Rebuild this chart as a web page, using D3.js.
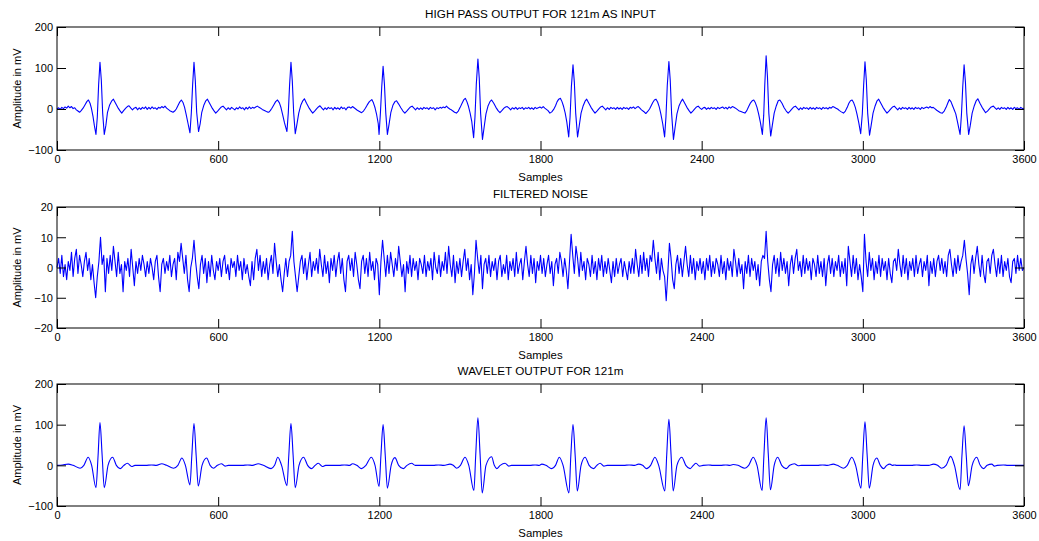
<!DOCTYPE html>
<html>
<head>
<meta charset="utf-8">
<script src="https://cdn.jsdelivr.net/npm/d3@7"></script>
<style>
  html, body { margin: 0; padding: 0; background: #fff; }
  svg text { font-family: "Liberation Sans", Arial, Helvetica, sans-serif; fill: #000; }
</style>
</head>
<body>
<svg id="chart" width="1039" height="541"></svg>
<script>
// ---- data ---------------------------------------------------------------
const sampleTicks = [0, 600, 1200, 1800, 2400, 3000, 3600];
const ecgTicks = [-100, 0, 100, 200];
const noiseTicks = [-20, -10, 0, 10, 20];
const titles = ["HIGH PASS OUTPUT FOR 121m AS INPUT", "FILTERED NOISE", "WAVELET OUTPUT FOR 121m"];
const xLabel = "Samples";
const yLabel = "Amplitude in mV";

// high-pass filtered ECG, [sample, mV]
const highPass = [
  [0,0],[6,3],[12,-1],[18,4],[24,1],[30,5],[36,2],[42,7],[48,3],[54,6],[60,1],[66,3],[72,-2],[78,-5],[84,-8],[90,-4],
  [97,2],[104,10],[111,18],[117,22],[123,14],[128,2],[134,-18],[139,-40],[145,-62],[150,-20],[155,60],[160,114],[165,70],[170,-10],[176,-62],[182,-40],[188,-8],[196,10],[204,20],[210,24],[218,14],[226,4],[234,-4],[241,-10],[248,-4],[256,2],[262,6],[268,8],[275,2],[281,-2],[287,2],
  [294,4],[300,-2],[306,3],[312,-1],[318,4],[324,1],[330,5],[336,-1],[342,4],[348,0],[354,5],[360,1],[366,3],[372,-1],[378,4],[384,2],[390,6],[396,3],[402,7],[408,2],
  [414,-1],[420,-4],[426,-6],[432,-8],[438,-5],[444,0],[450,8],[456,16],[463,22],[469,16],[475,4],[481,-14],[488,-36],[495,-58],[500,-10],[505,60],[510,114],[515,68],[520,-8],[527,-55],[533,-36],[539,-8],[547,10],[554,20],[560,24],[568,14],[576,4],[584,-4],[591,-10],[598,-5],[606,1],[612,5],[618,7],[625,2],[631,-2],[637,3],
  [644,-1],[650,4],[656,1],[662,-2],[668,3],[674,0],[680,5],[686,1],[692,3],[698,-2],[704,4],[710,0],[716,5],[722,1],[728,4],[734,2],[740,5],[746,7],[752,4],[758,2],[764,-1],
  [770,-3],[776,-5],[782,-7],[788,-8],[794,-4],[800,2],[807,10],[814,18],[821,22],[828,15],[834,3],[840,-14],[847,-34],[856,-55],[861,-10],[866,60],[871,114],[876,68],[881,-8],[887,-60],[893,-38],[900,-10],[908,10],[915,20],[921,25],[929,14],[937,4],[945,-4],[952,-10],[959,-5],[967,1],[973,5],[979,8],[986,2],[992,-2],[998,3],
  [1004,-1],[1010,4],[1016,1],[1022,3],[1028,-2],[1034,4],[1040,0],[1046,3],[1052,-1],[1058,5],[1064,1],[1070,3],[1076,-2],[1082,4],[1088,5],[1094,2],[1100,6],[1106,3],[1112,0],
  [1118,-3],[1126,-6],[1134,-9],[1141,-5],[1148,2],[1155,10],[1163,18],[1172,23],[1178,15],[1184,3],[1190,-14],[1196,-36],[1199,-62],[1204,-10],[1209,55],[1214,104],[1219,60],[1224,-10],[1230,-62],[1236,-38],[1243,-8],[1251,10],[1258,18],[1264,20],[1272,12],[1280,3],[1288,-5],[1295,-10],[1302,-5],[1310,1],[1316,5],[1322,7],[1329,2],[1335,-2],[1341,3],
  [1348,-1],[1354,3],[1360,-1],[1366,4],[1372,1],[1378,3],[1384,-1],[1390,4],[1396,1],[1402,3],[1408,-2],[1414,3],[1420,1],[1426,4],[1432,2],[1438,5],[1444,3],[1450,7],[1456,3],[1462,0],[1468,-2],
  [1474,-5],[1480,-8],[1487,-10],[1494,-5],[1501,4],[1508,14],[1514,22],[1520,26],[1526,18],[1532,6],[1538,-10],[1544,-30],[1551,-70],[1556,-20],[1561,60],[1567,122],[1572,75],[1577,-10],[1584,-74],[1590,-45],[1597,-12],[1605,8],[1612,18],[1618,22],[1626,14],[1634,4],[1642,-4],[1649,-9],[1656,-4],[1664,2],[1670,5],[1676,6],[1683,2],[1689,-2],[1695,3],
  [1702,0],[1708,4],[1714,-1],[1720,3],[1726,1],[1732,4],[1738,-1],[1744,3],[1750,1],[1756,4],[1762,0],[1768,3],[1774,-1],[1780,4],[1786,1],[1792,3],[1798,5],[1804,2],[1810,6],[1816,2],[1822,-1],
  [1828,-4],[1835,-10],[1842,-7],[1849,-1],[1856,8],[1862,18],[1868,24],[1874,26],[1880,18],[1886,6],[1892,-10],[1898,-32],[1905,-68],[1910,-20],[1915,55],[1921,108],[1926,65],[1931,-10],[1938,-68],[1944,-42],[1951,-10],[1959,8],[1966,19],[1972,24],[1980,14],[1988,4],[1996,-4],[2003,-10],[2010,-5],[2018,1],[2024,5],[2030,7],[2037,2],[2043,-2],[2049,3],
  [2056,-1],[2062,4],[2068,1],[2074,3],[2080,-1],[2086,4],[2092,0],[2098,3],[2104,-1],[2110,4],[2116,1],[2122,3],[2128,-1],[2134,4],[2140,2],[2146,5],[2152,1],[2158,4],[2164,6],[2170,2],[2176,-2],
  [2184,-6],[2192,-11],[2199,-6],[2206,0],[2212,8],[2218,16],[2224,22],[2230,24],[2236,17],[2242,5],[2248,-12],[2255,-36],[2262,-68],[2267,-20],[2272,58],[2278,116],[2283,70],[2288,-10],[2295,-74],[2301,-45],[2308,-12],[2316,8],[2323,18],[2329,24],[2337,14],[2345,4],[2353,-4],[2360,-10],[2367,-5],[2375,1],[2381,5],[2387,7],[2394,2],[2400,-1],[2406,3],
  [2412,4],[2418,-1],[2424,3],[2430,0],[2436,4],[2442,1],[2448,3],[2454,-1],[2460,4],[2466,1],[2472,3],[2478,5],[2484,1],[2490,4],[2496,0],[2502,5],[2508,2],[2514,6],[2520,4],[2526,2],[2532,-1],
  [2538,-4],[2546,-6],[2553,-8],[2561,-10],[2568,-4],[2575,6],[2582,15],[2588,20],[2594,22],[2600,15],[2606,4],[2612,-12],[2619,-34],[2626,-62],[2631,-15],[2635,60],[2640,130],[2645,78],[2650,-10],[2657,-66],[2663,-40],[2670,-10],[2678,8],[2685,20],[2691,22],[2699,14],[2707,3],[2715,-5],[2722,-10],[2729,-5],[2737,1],[2743,5],[2749,7],[2756,2],[2762,-2],[2768,3],
  [2774,-1],[2780,4],[2786,1],[2792,3],[2798,-1],[2804,4],[2810,0],[2816,3],[2822,-1],[2828,4],[2834,1],[2840,3],[2846,-1],[2852,4],[2858,1],[2864,3],[2870,0],[2876,4],[2882,2],[2888,6],[2894,4],[2900,2],
  [2906,0],[2913,-4],[2920,-7],[2928,-10],[2935,-5],[2942,4],[2948,14],[2954,20],[2960,22],[2966,15],[2972,4],[2978,-12],[2985,-34],[2992,-60],[2998,-12],[3003,58],[3008,115],[3013,70],[3018,-10],[3025,-64],[3031,-40],[3038,-10],[3046,8],[3053,20],[3059,24],[3067,14],[3075,4],[3083,-4],[3090,-10],[3097,-5],[3105,1],[3111,5],[3117,7],[3124,2],[3130,-2],[3136,3],
  [3142,-1],[3148,4],[3154,1],[3160,3],[3166,-1],[3172,4],[3178,0],[3184,3],[3190,-1],[3196,4],[3202,1],[3208,3],[3214,-1],[3220,4],[3226,1],[3232,3],[3238,5],[3244,2],[3250,6],[3256,3],[3262,4],[3268,1],
  [3275,-3],[3282,-6],[3289,-9],[3296,-10],[3303,-5],[3310,4],[3316,14],[3322,23],[3328,18],[3334,8],[3340,-2],[3346,-12],[3352,-30],[3362,-62],[3367,-15],[3372,55],[3377,108],[3382,65],[3387,-10],[3394,-62],[3400,-40],[3407,-10],[3415,8],[3422,20],[3428,25],[3436,14],[3444,4],[3452,-4],[3457,-9],[3464,-5],[3472,1],[3478,5],[3486,7],[3492,3],[3498,-1],[3504,3],
  [3510,-1],[3516,4],[3522,1],[3528,3],[3534,-1],[3540,4],[3546,0],[3552,3],[3558,-1],[3564,4],[3570,1],[3576,3],[3582,-1],[3588,4],[3594,1],[3600,2]
];

// filtered noise, one value every 6 samples (0 .. 3600)
const noiseStep = 6;
const noise = [
  0,3,-2,4,-3,1,-4,2,-1,5,-3,3,6,-2,4,1,-3,2,5,-1,3,-4,1,-5,-10,-3,2,10,1,4,-8,3,-2,4,-1,7,2,-3,5,-2,1,-8,2,-1,3,-3,6,0,-6,2,
  -2,3,-1,4,1,-3,2,-2,3,0,-4,2,4,-3,-8,1,3,-2,2,-1,4,-3,1,3,-4,5,2,8,3,-2,4,-4,-8,0,3,9,2,-3,-7,1,4,-2,3,-5,2,-3,4,-1,-4,2,
  -1,3,-3,2,4,-2,1,-4,3,0,2,-3,4,-1,2,-4,3,-2,1,-3,-6,2,-4,3,6,-1,4,-3,2,-2,3,-4,1,4,-2,8,2,-3,1,-4,-8,-2,3,-3,2,4,12,2,-3,-8,
  -3,2,4,-2,3,-4,1,5,-3,2,-1,3,-2,6,1,-3,4,-2,2,-5,3,-1,4,-3,2,5,-2,3,-4,-8,2,4,-1,3,-3,5,1,-4,-7,2,4,-2,3,-3,5,-1,2,-4,3,1,
  -9,2,9,3,-3,4,-2,5,1,-3,3,-1,7,2,-3,1,-8,2,-2,4,-3,3,-1,2,-4,3,1,-2,4,-3,2,-1,3,-4,5,0,-2,4,-3,2,-1,5,-2,7,1,-3,4,-5,2,-2,
  3,-3,2,6,-1,3,-4,1,-9,-2,9,3,-2,4,-7,1,3,-2,4,-3,2,-1,3,-4,2,4,-3,1,-2,4,-4,2,-1,3,-3,5,-2,1,3,-4,2,7,1,-3,4,-2,3,-5,2,-1,
  4,-2,3,-3,1,4,-2,2,-6,1,3,-2,5,2,-3,3,-1,-7,2,11,4,-2,7,3,-3,5,-1,2,-4,3,1,-3,4,-2,2,-4,3,-1,4,-3,2,-2,3,-1,-5,2,-3,3,-2,1,
  3,-3,2,-1,-4,2,-2,3,-2,6,1,-3,4,-2,5,-1,3,-3,4,2,9,3,-2,5,-4,3,-1,-3,-11,-2,8,3,-4,-7,1,4,-2,3,-3,2,7,1,-3,4,-2,3,-4,2,-1,3,
  -2,2,-4,3,-1,4,-3,2,-2,3,1,-3,4,-2,2,-4,3,-1,2,-3,6,2,-3,3,-2,1,-7,2,-2,4,-3,3,-1,2,-4,1,-6,2,4,3,12,2,-4,-8,1,4,-2,3,-3,5,
  -1,3,-2,2,-6,1,4,-2,3,6,-1,2,-3,4,-2,3,-1,2,-4,3,1,-3,4,-2,2,-3,3,-6,1,4,-2,3,-3,2,-1,4,-3,2,-2,3,-6,7,2,-3,4,-2,3,-4,1,-3,
  -8,11,2,-3,5,-1,3,-4,2,-2,4,-3,3,-1,2,-4,3,-2,-5,2,3,-1,6,1,-3,4,-2,3,-4,2,-1,3,-3,4,-2,1,3,-3,2,-1,4,-6,2,-2,3,-3,2,4,-1,3,
  -2,2,-3,4,6,1,-3,3,-2,4,-1,2,4,9,3,-2,-9,1,4,-2,3,7,1,-3,4,-2,-5,2,3,-2,4,6,1,-3,3,-2,4,-3,2,-1,3,-3,-5,2,3,-2,4,-1,3,-1,
  0
];

// wavelet-denoised ECG, [sample, mV]
const wavelet = [
  [0,0],[20,1],[42,3],[60,0],[86,-7],[100,0],[116,20],[129,0],[145,-55],[153,25],[160,105],[168,25],[176,-55],[190,0],[207,20],[221,0],[235,-8],[249,0],[262,5],[278,-3],[290,0],
  [330,0],[352,1],[370,0],[390,4],[408,0],[434,-7],[450,0],[465,18],[478,0],[495,-48],[502,25],[510,103],[518,25],[526,-51],[540,0],[557,18],[570,0],[583,-7],[597,0],[612,4],[626,-2],[638,0],
  [690,0],[710,1],[728,0],[749,4],[768,0],[797,-8],[810,0],[822,20],[836,0],[856,-50],[863,25],[871,103],[879,25],[887,-55],[901,0],[918,20],[933,0],[947,-8],[961,0],[973,5],[988,-3],[1000,0],
  [1050,0],[1070,1],[1090,0],[1100,4],[1116,0],[1134,-8],[1150,0],[1170,20],[1184,0],[1199,-52],[1206,25],[1214,100],[1222,25],[1230,-56],[1244,0],[1258,19],[1272,0],[1289,-8],[1303,0],[1320,5],[1334,0],
  [1400,0],[1420,1],[1440,0],[1463,3],[1475,0],[1488,-7],[1502,0],[1519,20],[1533,0],[1552,-62],[1559,28],[1567,117],[1575,28],[1583,-68],[1597,0],[1618,21],[1628,0],[1637,-8],[1650,0],[1668,5],[1682,-2],[1692,0],
  [1760,0],[1780,1],[1795,0],[1805,3],[1820,0],[1842,-8],[1856,0],[1870,20],[1884,0],[1906,-68],[1913,25],[1921,100],[1929,25],[1937,-63],[1951,0],[1966,20],[1981,0],[1997,-8],[2010,0],[2022,5],[2036,-2],[2048,0],
  [2110,0],[2130,1],[2150,0],[2165,3],[2180,0],[2195,-8],[2210,0],[2226,20],[2240,0],[2263,-63],[2270,27],[2278,113],[2286,27],[2294,-63],[2308,0],[2326,20],[2341,0],[2357,-8],[2369,0],[2379,5],[2392,-2],[2405,0],
  [2425,1],[2442,0],[2470,0],[2490,1],[2505,0],[2517,2],[2535,0],[2561,-7],[2575,0],[2592,20],[2606,0],[2625,-62],[2632,28],[2640,117],[2648,28],[2656,-60],[2670,0],[2683,20],[2698,0],[2714,-8],[2728,0],[2745,4],[2760,-1],[2772,0],
  [2830,0],[2850,1],[2868,0],[2890,3],[2905,0],[2928,-7],[2942,0],[2959,20],[2973,0],[2993,-56],[3000,26],[3008,107],[3016,26],[3024,-56],[3038,0],[3052,18],[3065,0],[3077,-8],[3089,0],[3101,3],[3110,0],[3118,1],[3126,0],
  [3180,0],[3200,1],[3220,0],[3245,0],[3263,3],[3278,0],[3293,-7],[3310,0],[3327,22],[3341,0],[3362,-60],[3369,24],[3377,97],[3385,24],[3393,-50],[3407,0],[3424,20],[3437,0],[3449,-8],[3463,0],[3480,3],[3490,-2],[3500,0],[3523,1],[3540,0],[3600,0]
];

// ---- layout -------------------------------------------------------------
const plotLeft = 57, plotRight = 1024;
const panels = [
  { top: 27,  bottom: 150, domain: [-100, 200], ticks: ecgTicks,   title: titles[0], kind: "pairs",  data: highPass, curve: d3.curveLinear },
  { top: 207, bottom: 328, domain: [-20, 20],   ticks: noiseTicks, title: titles[1], kind: "series", data: noise,    curve: d3.curveLinear },
  { top: 384, bottom: 506, domain: [-100, 200], ticks: ecgTicks,   title: titles[2], kind: "pairs",  data: wavelet,  curve: d3.curveMonotoneX }
];

const svg = d3.select("#chart");
const tickLen = 9;
const tickFont = "11px";
const titleFont = "11.7px";
const labelFont = "11.4px";

panels.forEach(p => {
  const x = d3.scaleLinear().domain([0, 3600]).range([plotLeft, plotRight]);
  const y = d3.scaleLinear().domain(p.domain).range([p.bottom, p.top]);
  const g = svg.append("g");

  // signal trace
  const pts = p.kind === "pairs" ? p.data : p.data.map((v, i) => [i * noiseStep, v]);
  const line = d3.line().x(d => x(d[0])).y(d => y(d[1])).curve(p.curve);
  g.append("path")
    .datum(pts)
    .attr("d", line)
    .attr("fill", "none")
    .attr("stroke", "#0000ff")
    .attr("stroke-width", 1.1)
    .attr("stroke-linejoin", "round");

  // axes with inward ticks on all four sides
  const axB = d3.axisBottom(x).tickValues(sampleTicks).tickSize(-tickLen).tickPadding(5).tickFormat(d3.format("d"));
  const axT = d3.axisTop(x).tickValues(sampleTicks).tickSize(-tickLen).tickFormat("");
  const axL = d3.axisLeft(y).tickValues(p.ticks).tickSize(-tickLen).tickPadding(4).tickFormat(d3.format("d"));
  const axR = d3.axisRight(y).tickValues(p.ticks).tickSize(-tickLen).tickFormat("");

  const gb = g.append("g").attr("transform", `translate(0,${p.bottom})`).call(axB);
  const gt = g.append("g").attr("transform", `translate(0,${p.top})`).call(axT);
  const gl = g.append("g").attr("transform", `translate(${plotLeft},0)`).call(axL);
  const gr = g.append("g").attr("transform", `translate(${plotRight},0)`).call(axR);
  [gb, gt, gl, gr].forEach(a => {
    a.select(".domain").remove();
    a.selectAll(".tick line").attr("stroke", "#000").attr("stroke-width", 1);
    a.selectAll(".tick text").attr("font-size", tickFont).attr("fill", "#000")
      .style("font-family", '"Liberation Sans", Arial, sans-serif');
  });
  gb.selectAll(".tick text").attr("dy", "0.75em");
  gl.selectAll(".tick text").attr("dy", "0.35em");

  // box
  g.append("rect")
    .attr("x", plotLeft).attr("y", p.top)
    .attr("width", plotRight - plotLeft).attr("height", p.bottom - p.top)
    .attr("fill", "none").attr("stroke", "#000").attr("stroke-width", 1);

  // title, x label, y label
  const cx = (plotLeft + plotRight) / 2;
  g.append("text").attr("x", cx).attr("y", p.top - 9)
    .attr("text-anchor", "middle").attr("font-size", titleFont).text(p.title);
  g.append("text").attr("x", cx).attr("y", p.bottom + 31)
    .attr("text-anchor", "middle").attr("font-size", labelFont).text(xLabel);
  g.append("text")
    .attr("transform", `translate(21,${(p.top + p.bottom) / 2}) rotate(-90)`)
    .attr("text-anchor", "middle").attr("font-size", tickFont).text(yLabel);
});
</script>
</body>
</html>
